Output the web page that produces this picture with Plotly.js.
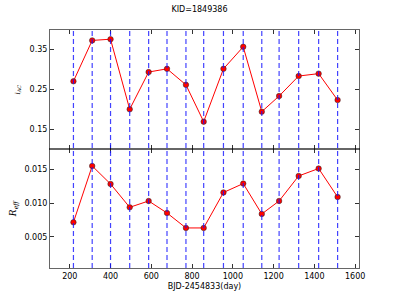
<!DOCTYPE html>
<html>
<head>
<meta charset="utf-8">
<script src="https://cdn.plot.ly/plotly-3.0.1.min.js"></script>
<style>html,body{margin:0;padding:0;background:#fff;}#chart{width:399px;height:299px;}</style>
</head>
<body>
<div id="chart"></div>
<script>
// Data
const days = [218, 310, 400, 494, 587, 677, 770, 857, 954, 1051, 1142, 1227, 1323, 1421, 1514];
const iAC = [0.270, 0.372, 0.375, 0.200, 0.293, 0.301, 0.261, 0.169, 0.301, 0.356, 0.194, 0.233, 0.283, 0.289, 0.223];
const rEff = [0.00718, 0.01553, 0.01286, 0.00940, 0.01034, 0.00856, 0.00634, 0.00634, 0.01160, 0.01292, 0.00841, 0.01034, 0.01405, 0.01515, 0.01093];
const xTicks = [200, 400, 600, 800, 1000, 1200, 1400, 1600];
const iTicks = [0.15, 0.25, 0.35];
const rTicks = [0.005, 0.010, 0.015];
const rTickText = ['0.005', '0.010', '0.015'];
const titleText = 'KID=1849386';
const xLabel = 'BJD-2454833(day)';

const font = {family: 'DejaVu Sans', size: 8, color: '#000'};
const lineStyle = {color: 'red', width: 1};
const markerStyle = {color: 'red', size: 5.5, line: {color: '#222', width: 0.5}};

const traces = [
  {x: days, y: iAC, xaxis: 'x2', yaxis: 'y2', mode: 'lines+markers', line: lineStyle, marker: markerStyle, hoverinfo: 'none'},
  {x: days, y: rEff, xaxis: 'x', yaxis: 'y', mode: 'lines+markers', line: lineStyle, marker: markerStyle, hoverinfo: 'none'}
];

const shapes = days.map(d => ({
  type: 'line', xref: 'x', yref: 'paper', x0: d, x1: d, y0: 0, y1: 1,
  line: {color: 'rgba(20,20,255,0.8)', width: 1.2, dash: '5px,3px'}, layer: 'above'
}));

const axCommon = {
  showline: true, linecolor: 'rgba(0,0,0,0.6)', linewidth: 1, mirror: 'ticks',
  ticks: 'inside', ticklen: 4, tickwidth: 0.8, tickcolor: '#000',
  showgrid: false, zeroline: false, tickfont: font
};

const layout = {
  width: 399, height: 299,
  margin: {l: 50, r: 40, t: 30, b: 31, pad: 0},
  paper_bgcolor: '#fff', plot_bgcolor: '#fff',
  showlegend: false,
  font: font,
  title: {text: titleText, font: {family: 'DejaVu Sans', size: 8, color: '#000'}, x: 0.5, xref: 'container', y: 0.968, yref: 'container', yanchor: 'middle'},
  xaxis: Object.assign({}, axCommon, {
    anchor: 'y', range: [103, 1619], tickvals: xTicks, ticktext: xTicks.map(String),
    title: {text: xLabel, font: font, standoff: 3}
  }),
  yaxis: Object.assign({}, axCommon, {
    anchor: 'x', domain: [0, 0.4987], range: [0.0004, 0.018], tickvals: rTicks, ticktext: rTickText,
    title: {text: '<i>R</i><sub><i>eff</i></sub>', font: {family: 'DejaVu Serif', size: 9, color: '#000'}, standoff: 6}
  }),
  xaxis2: Object.assign({}, axCommon, {
    anchor: 'y2', matches: 'x', range: [103, 1619], tickvals: xTicks, showticklabels: false
  }),
  yaxis2: Object.assign({}, axCommon, {
    anchor: 'x2', domain: [0.4987, 1], range: [0.10, 0.398], tickvals: iTicks, ticktext: iTicks.map(v => v.toFixed(2)),
    title: {text: '<i>i</i><sub><i>AC</i></sub>', font: {family: 'DejaVu Serif', size: 7, color: '#000'}, standoff: 8}
  }),
  shapes: shapes
};

Plotly.newPlot('chart', traces, layout, {staticPlot: true, displayModeBar: false});
</script>
</body>
</html>
